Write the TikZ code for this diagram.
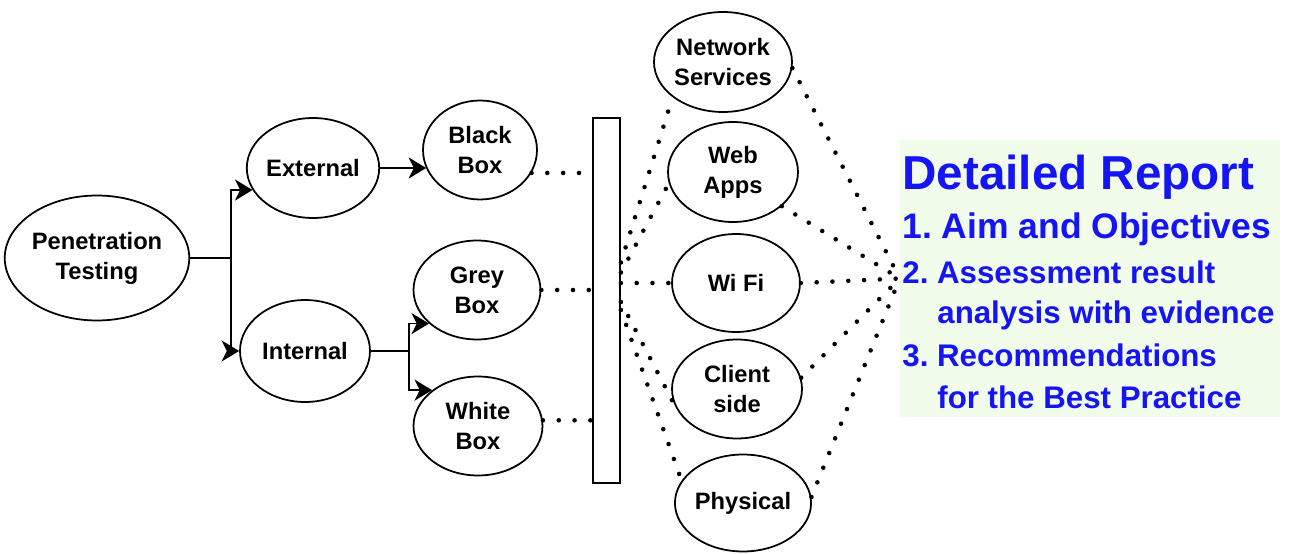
\documentclass[tikz,border=0pt]{standalone}
\usepackage{fontspec}
\setmainfont{Liberation Sans}
\usetikzlibrary{shapes.geometric,arrows.meta,calc}
\definecolor{repblue}{RGB}{20,20,245}
\definecolor{repgreen}{RGB}{242,252,234}
\frenchspacing
\begin{document}
\begin{tikzpicture}[x=0.02cm,y=-0.02cm,
  oval/.style={ellipse,draw,line width=1pt,inner sep=0pt,align=center,
    font=\fontsize{13.5}{17}\selectfont\bfseries},
  link/.style={line width=1pt,-{Stealth[length=10pt,width=12pt,inset=3pt]}},
  dots/.style={line width=2.6pt,line cap=round,dash pattern=on 0pt off 9pt},
  reptext/.style={anchor=base west,inner sep=0pt,text=repblue,
    font=\fontsize{17.8}{20}\selectfont\bfseries}]
  \useasboundingbox (0,0) rectangle (1291,554);
  \node[oval,minimum width=3.58cm,minimum height=2.5cm] (pen) at (97,258) {Penetration\\Testing};
  \node[oval,minimum width=2.6cm,minimum height=2cm] (ext) at (313,168) {External};
  \node[oval,minimum width=2.6cm,minimum height=2.04cm] (int) at (305,351) {Internal};
  \node[oval,minimum width=2.28cm,minimum height=1.98cm] (bb) at (480,150) {Black\\Box};
  \node[oval,minimum width=2.54cm,minimum height=1.98cm] (gb) at (477,290) {Grey\\Box};
  \node[oval,minimum width=2.58cm,minimum height=1.98cm] (wb) at (478,426) {White\\Box};
  \node[draw,line width=1pt,minimum width=0.54cm,minimum height=7.3cm,inner sep=0pt] (bar) at (606.5,300.5) {};
  \node[oval,minimum width=2.6cm,minimum height=2cm] (ns) at (723,62) {Network\\Services};
  \node[oval,minimum width=2.6cm,minimum height=2cm] (wa) at (733,172) {Web\\Apps};
  \node[oval,minimum width=2.56cm,minimum height=1.96cm] (wf) at (736,283) {Wi Fi};
  \node[oval,minimum width=2.6cm,minimum height=1.98cm] (cs) at (737,389) {Client\\side};
  \node[oval,minimum width=2.6cm,minimum height=1.94cm] (ph) at (743,503) {Physical};
  \node[fill=repgreen,minimum width=7.6cm,minimum height=5.54cm,inner sep=0pt] (rep) at (1090,278.5) {};
  \node[reptext,font=\fontsize{27.1}{30}\selectfont\bfseries] (title) at (902,189) {Detailed Report};
  \node[reptext,font=\fontsize{20.2}{24}\selectfont\bfseries] (aim) at (902,238) {1. Aim and Objectives};
  \node[reptext] (assess) at (902,283) {2. Assessment result};
  \node[reptext] (evid) at (937,323) {analysis with evidence};
  \node[reptext] (recom) at (902,366) {3. Recommendations};
  \node[reptext] (best) at (937,408) {for the Best Practice};
  \draw[link] (pen.east) -- ++(41,0) |- (ext.200);
  \draw[link] (pen.east) -- ++(41,0) |- (int.west);
  \draw[link] (ext.east) -- (ext.east -| bb.199);
  \draw[link] (int.east) -- ++(38,0) |- (gb.215);
  \draw[link] (int.east) -- ++(38,0) |- (wb.142);
  \draw[dots] (bb.-24) -- (bb.-24 -| bar.west);
  \draw[dots] (gb.east) -- (gb.east -| bar.west);
  \draw[dots] (wb.5) -- (wb.5 -| bar.west);
  \draw[dots] ($(bar.east)+(0,-38)$) -- (ns.215);
  \draw[dots] ($(bar.east)+(0,-28)$) -- (wa.190);
  \draw[dots] ($(bar.east)+(0,-17.5)$) -- (wf.west);
  \draw[dots] ($(bar.east)+(0,1.5)$) -- (cs.195);
  \draw[dots] ($(bar.east)+(0,9.5)$) -- (ph.160);
  \draw[dots] (ns.-5) -- (rep.west);
  \draw[dots] (wa.-35) -- (rep.west);
  \draw[dots] (wf.east) -- (rep.west);
  \draw[dots] (cs.10) -- (rep.west);
  \draw[dots] (ph.5) -- (rep.west);
\end{tikzpicture}
\end{document}
